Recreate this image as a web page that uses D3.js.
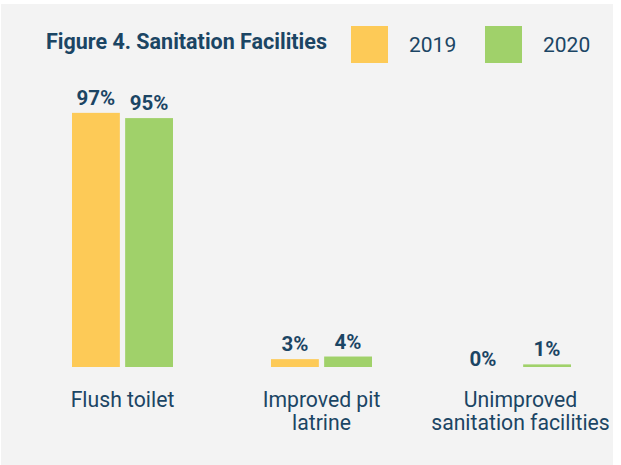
<!DOCTYPE html>
<html>
<head>
<meta charset="utf-8">
<script src="https://cdn.jsdelivr.net/npm/d3@7"></script>
<style>
  html, body { margin: 0; padding: 0; background: #ffffff; }
  svg { display: block; }
  text { font-family: Roboto, "Noto Sans", sans-serif; }
</style>
</head>
<body>
<svg id="chart" width="621" height="465"></svg>
<script>
const categories = [["Flush toilet"], ["Improved pit", "latrine"], ["Unimproved", "sanitation facilities"]];
const seriesNames = ["2019", "2020"];
const values2019 = [97, 3, 0];
const values2020 = [95, 4, 1];
const title = "Figure 4. Sanitation Facilities";

const colors = { "2019": "#fdca57", "2020": "#a0d16a" };
const textColor = "#1b4564";

const svg = d3.select("#chart");
svg.append("rect").attr("x", 1).attr("y", 4).attr("width", 612).attr("height", 461).attr("fill", "#f3f3f3");

const catKeys = categories.map(c => c.join(" "));
const x0 = d3.scaleBand().domain(catKeys).range([23, 620]).paddingInner(0).paddingOuter(0);
const x1 = d3.scaleBand().domain(seriesNames).range([x0.bandwidth() / 2 - 50.5, x0.bandwidth() / 2 + 50.5]).paddingInner(0.1).paddingOuter(0);
const y = d3.scaleLinear().domain([0, 100]).range([367, 105]);

const data = catKeys.map((k, i) => ({ key: k, lines: categories[i], vals: [
  { s: "2019", v: values2019[i] }, { s: "2020", v: values2020[i] }
]}));

const g = svg.append("g");
const groups = g.selectAll("g.grp").data(data).join("g")
  .attr("class", "grp")
  .attr("transform", d => `translate(${x0(d.key)},0)`);

groups.selectAll("rect").data(d => d.vals).join("rect")
  .attr("x", d => x1(d.s))
  .attr("width", x1.bandwidth())
  .attr("y", d => y(d.v))
  .attr("height", d => y(0) - y(d.v))
  .attr("fill", d => colors[d.s]);

groups.selectAll("text.val").data(d => d.vals).join("text")
  .attr("class", "val")
  .attr("x", d => x1(d.s) + x1.bandwidth() / 2 + (d.v === 0 ? -11 : 0))
  .attr("y", d => d.v === 0 ? y(0) - 1 : y(d.v) - 8)
  .attr("text-anchor", "middle")
  .attr("font-size", 20.5)
  .attr("font-weight", "bold")
  .attr("fill", textColor)
  .text(d => d.v + "%");

groups.each(function(d) {
  const t = d3.select(this).append("text")
    .attr("text-anchor", "middle")
    .attr("font-size", 21.2)
    .attr("fill", textColor);
  d.lines.forEach((ln, i) => {
    t.append("tspan").attr("x", x0.bandwidth() / 2).attr("y", 407 + i * 22.5).text(ln);
  });
});

svg.append("text")
  .attr("x", 46).attr("y", 48.5)
  .attr("font-size", 21.5)
  .attr("font-weight", "bold")
  .attr("fill", textColor)
  .text(title);

const legendX = d3.scalePoint().domain(seriesNames).range([351, 485]);
const lg = svg.selectAll("g.leg").data(seriesNames).join("g")
  .attr("class", "leg")
  .attr("transform", d => `translate(${legendX(d)},26)`);
lg.append("rect").attr("width", 37).attr("height", 37).attr("fill", d => colors[d]);
lg.append("text").attr("x", 58).attr("y", 25.7)
  .attr("font-size", 21).attr("fill", textColor).text(d => d);
</script>
</body>
</html>
